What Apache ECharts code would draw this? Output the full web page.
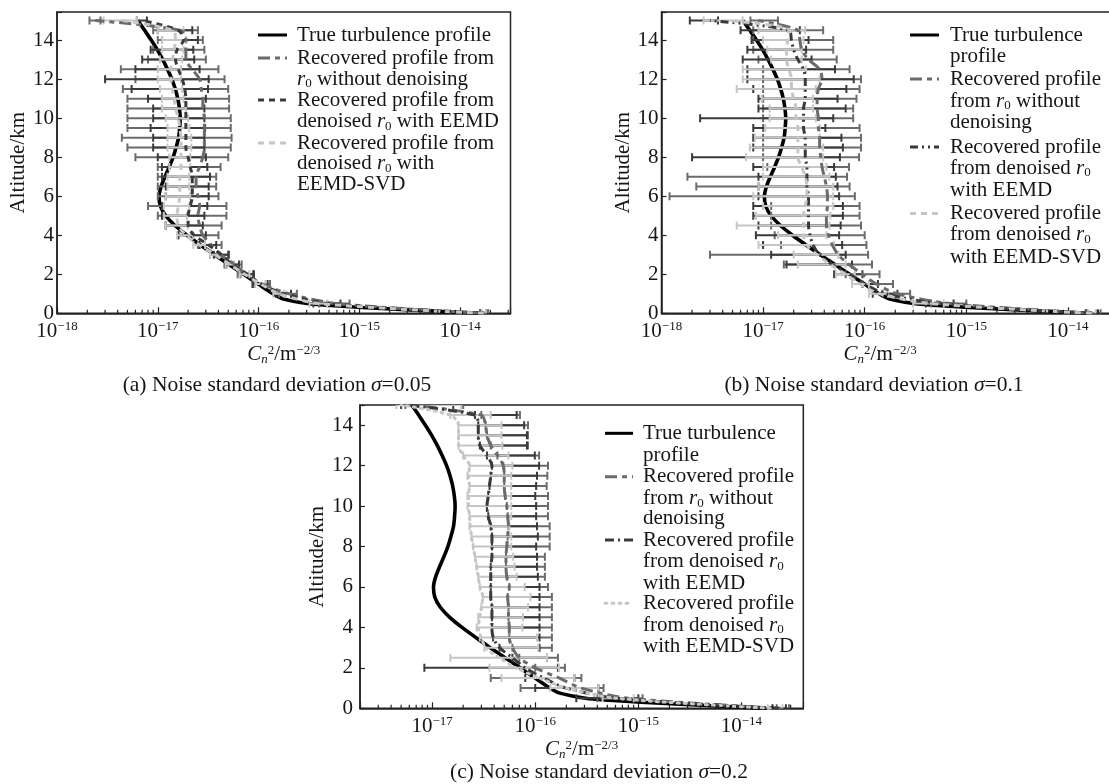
<!DOCTYPE html>
<html><head><meta charset="utf-8">
<script src="https://cdn.jsdelivr.net/npm/echarts@6/dist/echarts.min.js"></script>
<style>html,body{margin:0;padding:0;background:#fff}#c{width:1109px;height:784px}</style>
</head><body><div id="c"></div>
<script>
// values in units of 1e-17 m^-2/3
const U = 1e-17;
const ALT = [0,0.5,1,1.5,2,2.5,3,3.5,4,4.5,5,5.5,6,6.5,7,7.5,8,8.5,9,9.5,10,10.5,11,11.5,12,12.5,13,13.5,14,14.5,15];
const X_TICK_EXPONENTS = [-18,-17,-16,-15,-14];
const Y_TICKS = [0,2,4,6,8,10,12,14];

const TRUE_ALT = [0,0.1,0.2,0.3,0.4,0.5,0.75,1,1.5,2,2.5,3,3.5,4,4.5,5,5.5,6,6.5,7,7.5,8,8.5,9,9.5,10,10.5,11,11.5,12,12.5,13,13.5,14,14.5,15];
const TRUE_VAL = [1730,650,254,107,52,30.8,17.3,13.9,9.95,7.12,5.1,3.66,2.65,1.95,1.48,1.2,1.06,1.03,1.08,1.18,1.3,1.42,1.52,1.61,1.65,1.67,1.64,1.58,1.49,1.38,1.25,1.12,0.99,0.86,0.74,0.635];

// (a) sigma = 0.05
const ND_A_MEAN = [1750,60,20,11,7.5,5.8,4.2,3.4,2.8,2.6,2.5,2.6,2.5,2.4,2.4,2.6,2.8,2.9,2.9,2.9,2.9,2.8,2.8,2.7,2.6,2.2,1.9,1.9,1.9,1.7,0.24];
const ND_A_LO   = [1600,40,16,9,6.2,4.8,3.3,2.5,1.6,1.2,1.0,0.8,1.0,1.0,1.0,1.0,0.6,0.5,0.44,0.5,0.5,0.5,0.5,0.45,0.6,0.43,0.8,0.9,1.0,0.9,0.21];
const ND_A_HI   = [1900,80,24,13,8.8,6.8,5.1,4.3,4.0,4.3,4.8,4.8,4.0,3.8,3.8,4.2,5.0,5.3,5.4,5.3,5.3,5.1,5.1,5.0,4.6,4.0,3.0,2.9,2.8,2.5,0.27];
const EE_A_MEAN = [1700,50,18,10.5,7.8,5.5,4.3,3.2,2.3,2.0,2.0,2.1,2.2,2.2,2.2,2.1,2.0,1.9,1.9,1.9,1.9,1.9,1.9,1.85,1.75,1.6,1.5,1.55,1.8,1.6,0.70];
const EE_A_LO   = [1580,35,15,8.7,6.6,4.6,3.6,2.6,1.6,1.2,1.1,1.1,1.2,1.2,1.1,1.1,1.0,0.9,0.9,0.85,0.9,0.9,0.8,0.55,0.3,0.6,0.7,0.85,1.1,1.0,0.62];
const EE_A_HI   = [1820,65,21,12.3,9.0,6.4,5.0,3.8,3.0,2.8,2.9,3.1,3.2,3.2,3.3,3.1,3.0,2.9,2.9,2.95,2.9,2.9,3.0,3.15,3.2,2.6,2.3,2.25,2.5,2.2,0.78];
const SV_A_MEAN = [1720,40,16,10.5,7.3,5.2,3.7,2.6,1.9,1.6,1.55,1.6,1.65,1.65,1.65,1.7,1.7,1.7,1.7,1.65,1.6,1.5,1.45,1.4,1.35,1.35,1.4,1.45,1.5,1.4,0.45];
const SV_A_LO   = [1640,32,14,9.3,6.5,4.7,3.3,2.25,1.55,1.2,1.15,1.15,1.2,1.25,1.25,1.3,1.3,1.25,1.25,1.25,1.2,1.1,1.1,1.05,1.0,1.0,1.05,1.1,1.1,1.0,0.29];
const SV_A_HI   = [1800,48,18,11.7,8.1,5.7,4.1,2.95,2.25,2.0,1.95,2.05,2.1,2.05,2.05,2.1,2.1,2.15,2.15,2.05,2.0,1.9,1.8,1.75,1.7,1.7,1.75,1.8,1.9,1.8,0.62];

// (b) sigma = 0.1
const ND_B_MEAN = [1750,70,21,13,9.5,7.0,5.5,4.8,4.4,4.2,4.2,4.3,4.3,4.2,4.0,3.8,3.7,3.6,3.6,3.5,3.5,3.4,3.4,3.5,3.8,3.6,2.8,2.4,2.3,2.2,0.9];
const ND_B_LO   = [1550,45,15,9.5,6.5,1.6,0.30,1.5,1.3,1.2,1.2,1.2,0.12,0.22,0.18,1.1,1.0,1.0,1.0,1.0,1.0,1.0,1.0,1.0,1.0,1.0,0.9,0.8,0.8,0.8,0.75];
const ND_B_HI   = [2100,100,28,19,14,11.8,10.8,10.4,10,9.2,8.9,8.9,8.0,7.1,6.7,7.0,8.8,9.2,9.2,8.9,7.7,7.7,8.3,8.9,9.2,7.1,5.3,4.9,4.9,3.9,1.4];
const EE_B_MEAN = [1700,55,16,10,7.2,4.8,3.6,3.1,2.9,2.8,2.8,2.8,2.8,2.7,2.7,2.7,2.6,2.6,2.6,2.5,2.5,2.5,2.6,2.6,2.6,2.5,2.2,2.0,1.9,1.8,0.3];
const EE_B_LO   = [1500,40,12,7.5,5.0,1.7,1.2,1.0,0.85,0.9,0.8,0.8,0.9,0.9,0.9,0.8,0.2,0.8,0.8,0.8,0.24,0.9,0.9,0.8,0.7,0.7,0.63,0.7,0.77,0.6,0.19];
const EE_B_HI   = [1950,75,21,13.5,9.5,7.5,6.5,6.0,5.6,5.8,6.1,6.1,5.6,5.4,5.2,5.0,5.7,6.1,5.9,4.1,4.9,6.5,5.4,6.6,7.8,5.1,3.0,2.65,2.8,2.3,0.36];
const SV_B_MEAN = [1720,45,14,9,6.5,4.6,3.4,2.7,2.5,2.5,2.5,2.6,2.7,2.7,2.6,2.4,2.2,2.2,2.2,2.2,2.1,2.1,2.0,1.9,1.9,1.8,1.7,1.7,1.75,1.8,0.45];
const SV_B_LO   = [1580,30,11,7.5,5.2,2.2,2.0,0.9,1.4,0.55,0.85,1.0,0.8,0.9,1.0,1.0,0.68,0.74,0.83,1.05,1.16,1.16,0.97,0.55,0.63,0.63,1.2,1.1,1.0,0.9,0.26];
const SV_B_HI   = [1870,60,17,11,8.0,6.5,5.5,5.0,4.2,4.5,4.6,4.9,4.9,4.9,4.5,4.2,3.9,3.9,3.6,3.6,3.3,3.1,3.1,3.3,3.6,2.65,2.4,2.4,2.5,2.6,0.63];

// (c) sigma = 0.2
const ND_C_MEAN = [2400,80,28,17,10,7,6,5.6,5.6,5.5,5.5,5.4,5.6,5.3,5.2,5.2,5.3,5.4,5.5,5.4,5.3,5.1,5.0,5.0,4.9,4.3,3.7,3.4,3.3,3.0,0.6];
const ND_C_LO   = [2200,40,7.2,3.7,10,7,6,5.6,5.6,5.5,5.5,5.4,5.6,5.3,5.2,5.2,5.3,5.4,5.5,5.4,5.3,5.1,5.0,5.0,4.9,4.3,3.7,3.4,3.3,3.0,0.55];
const ND_C_HI   = [2900,110,46,28,19.4,16.6,14.5,14.5,14.5,14.5,14.5,14.5,13.3,12.4,12.4,12.4,13.8,13.8,13.8,13.3,13.3,13.3,12.9,13.1,13.3,10.9,8.5,8.5,8.5,7.1,2.0];
const EE_C_MEAN = [2300,60,20,12,8,6,4.5,3.9,3.8,3.8,3.8,3.7,3.7,3.7,3.7,3.8,3.8,3.8,3.7,3.5,3.4,3.5,3.6,3.7,3.8,3.4,2.9,2.8,2.8,2.6,0.55];
const EE_C_LO   = [2000,25,10,8,0.84,6,4.5,3.9,3.8,3.8,3.8,3.7,3.7,3.7,3.7,3.8,3.8,3.8,3.7,3.5,3.4,3.5,3.6,3.7,3.8,3.4,2.9,2.8,2.8,2.6,0.5];
const EE_C_HI   = [2700,100,41,24,16.6,13,11,11,11,11,11,11,11,10.6,10.4,10.4,10.2,10.6,10.4,10.2,10.2,10.0,10.2,10.4,10.9,9.9,8.3,8.3,7.8,6.6,1.6];
const SV_C_MEAN = [1900,60,20,11,6.5,4.5,3.3,3.0,2.8,2.9,3.0,3.1,2.9,2.8,2.7,2.6,2.5,2.4,2.35,2.3,2.25,2.25,2.3,2.25,2.3,2.0,1.8,1.8,1.8,1.5,0.5];
const SV_C_LO   = [1800,45,14,4.7,3.6,1.5,3.2,2.9,2.7,2.8,3.0,3.1,2.9,2.8,2.7,2.6,2.5,2.4,2.3,2.3,2.2,2.2,2.3,2.2,2.3,2.0,1.8,1.8,1.8,1.5,0.45];
const SV_C_HI   = [2500,90,41,24,17,13,10.7,10.4,7.5,7.6,8.5,9.0,7.9,6.6,6.3,6.1,5.85,5.85,5.6,5.85,5.85,5.85,5.85,5.85,6.0,5.5,4.8,4.7,4.7,3.7,1.9];

const FONT = '"Liberation Serif","Times New Roman",serif';
const TXT = '#161616';
const C_TRUE = '#000000', C_ND = '#6b6b6b', C_EE = '#3a3a3a', C_SV = '#c6c6c6';
const DASH_ND = [12,5,5,5], DASH_EE_A = [6,5], DASH_EE_B = [8,4,2,4,2,4], DASH_EE_C = [9,4,2,4], DASH_SV = [6,5], DASH_SV_C = [2,5];

const panels = [
  { grid:{left:57, top:12, width:453.5, height:301.3}, xMin:1e-18, xMax:Math.pow(10,-13.5), yMax:15.44,
    nd:[ND_A_MEAN,ND_A_LO,ND_A_HI], ee:[EE_A_MEAN,EE_A_LO,EE_A_HI], sv:[SV_A_MEAN,SV_A_LO,SV_A_HI],
    eeDash:DASH_EE_A, svDash:DASH_SV, yLabelMargin:3, yNameGap:28, xNameGap:24, xNamePad:[0,0,0,0] },
  { grid:{left:661.5, top:12, width:457.2, height:301.3}, xMin:1e-18, xMax:Math.pow(10,-13.5), yMax:15.44,
    nd:[ND_B_MEAN,ND_B_LO,ND_B_HI], ee:[EE_B_MEAN,EE_B_LO,EE_B_HI], sv:[SV_B_MEAN,SV_B_LO,SV_B_HI],
    eeDash:DASH_EE_B, svDash:DASH_SV, yLabelMargin:3, yNameGap:28, xNameGap:24, xNamePad:[0,20,0,0] },
  { grid:{left:360, top:405, width:443.3, height:303.3}, xMin:Math.pow(10,-17.7), xMax:Math.pow(10,-13.4), yMax:15,
    nd:[ND_C_MEAN,ND_C_LO,ND_C_HI], ee:[EE_C_MEAN,EE_C_LO,EE_C_HI], sv:[SV_C_MEAN,SV_C_LO,SV_C_HI],
    eeDash:DASH_EE_C, svDash:DASH_SV_C, yLabelMargin:7, yNameGap:27, xNameGap:20, xNamePad:[0,0,0,0] }
];

function powLabel(v){
  const l = Math.log10(v), e = Math.round(l);
  if (Math.abs(l - e) > 1e-6 || X_TICK_EXPONENTS.indexOf(e) < 0) return '';
  return '{b|10}{s|\u2212' + Math.abs(e) + '}';
}
function yLabel(v){
  const r = Math.round(v);
  return (Math.abs(v - r) < 1e-9 && Y_TICKS.indexOf(r) >= 0) ? String(r) : '';
}
function barRenderer(color){
  return function(params, api){
    const h = api.value(2);
    const a = api.coord([api.value(0), h]);
    const b = api.coord([api.value(1), h]);
    const c = 4;
    const st = {stroke: color, lineWidth: 2, fill: null};
    return {type:'group', children:[
      {type:'line', shape:{x1:a[0],y1:a[1],x2:b[0],y2:b[1]}, style:st},
      {type:'line', shape:{x1:a[0],y1:a[1]-c,x2:a[0],y2:a[1]+c}, style:st},
      {type:'line', shape:{x1:b[0],y1:b[1]-c,x2:b[0],y2:b[1]+c}, style:st}
    ]};
  };
}
function minorRender(params, api){
  const p = api.coord([api.value(0), 0]);
  return {type:'line', shape:{x1:p[0],y1:p[1],x2:p[0],y2:p[1]-3.5}, style:{stroke:'#222', lineWidth:1.2}};
}

const grids = [], xAxes = [], yAxes = [], series = [];
panels.forEach((P, i) => {
  grids.push(Object.assign({show:true, borderColor:'#222', borderWidth:1.5, backgroundColor:'transparent', containLabel:false, outerBoundsMode:'none'}, P.grid));
  xAxes.push({
    type:'log', logBase:10, gridIndex:i, min:P.xMin, max:P.xMax, splitNumber:5,
    axisLine:{show:true, lineStyle:{color:'#222', width:1.5}},
    axisTick:{show:true, inside:true, length:6, lineStyle:{color:'#222', width:1.2}},
    splitLine:{show:false}, minorTick:{show:false},
    axisLabel:{formatter:powLabel, margin:7, color:TXT, fontFamily:FONT,
      rich:{ b:{fontFamily:FONT, fontSize:21, lineHeight:22, color:TXT},
             s:{fontFamily:FONT, fontSize:13, lineHeight:13, padding:[0,0,9,0], color:TXT} }},
    name:'{i|C}{sb|n}{sp|2}{t|/m}{sp|\u22122/3}', nameLocation:'middle', nameGap:P.xNameGap,
    nameTextStyle:{fontFamily:FONT, fontSize:21, color:TXT, padding:P.xNamePad,
      rich:{ i:{fontFamily:FONT, fontSize:21, fontStyle:'italic', color:TXT, lineHeight:22},
             sb:{fontFamily:FONT, fontSize:13, fontStyle:'italic', color:TXT, lineHeight:13, padding:[10,0,0,0]},
             sp:{fontFamily:FONT, fontSize:13, color:TXT, lineHeight:13, padding:[0,0,9,0]},
             t:{fontFamily:FONT, fontSize:21, color:TXT, lineHeight:22} }}
  });
  yAxes.push({
    type:'value', gridIndex:i, min:0, max:P.yMax, interval:2,
    axisLine:{show:true, lineStyle:{color:'#222', width:1.5}},
    axisTick:{show:true, inside:true, length:5, lineStyle:{color:'#222', width:1.2}},
    splitLine:{show:false},
    axisLabel:{formatter:yLabel, margin:P.yLabelMargin, color:TXT, fontFamily:FONT, fontSize:21},
    name:'Altitude/km', nameLocation:'middle', nameGap:P.yNameGap, nameRotate:90,
    nameTextStyle:{fontFamily:FONT, fontSize:21, color:TXT}
  });

  series.push({type:'line', xAxisIndex:i, yAxisIndex:i, z:1, silent:true, symbol:'none', smooth:0.3,
    data: TRUE_ALT.map((h,k) => [TRUE_VAL[k]*U, h]), lineStyle:{color:C_TRUE, width:3.6}});

  const groups = [[P.nd, C_ND, DASH_ND, 'butt'], [P.ee, C_EE, P.eeDash, 'butt'], [P.sv, C_SV, P.svDash, i===2?'round':'butt']];
  groups.forEach((g, k) => {
    const [mean, lo, hi] = g[0];
    series.push({type:'custom', xAxisIndex:i, yAxisIndex:i, z:2+k, silent:true, clip:true,
      data: ALT.map((h,j) => [lo[j]*U, hi[j]*U, h]), encode:{x:[0,1], y:2},
      renderItem: barRenderer(g[1])});
  });
  groups.forEach((g, k) => {
    const mean = g[0][0];
    series.push({type:'line', xAxisIndex:i, yAxisIndex:i, z:5+k, silent:true, symbol:'none', smooth:0.3,
      data: ALT.map((h,j) => [mean[j]*U, h]),
      lineStyle:{color:g[1], width:3, type:g[2], cap:g[3]}});
  });

  const minor = [];
  for (let e = -19; e <= -13; e++) for (let m = 2; m <= 9; m++) {
    const v = m * Math.pow(10, e);
    if (v > P.xMin * 1.0001 && v < P.xMax * 0.9999) minor.push([v, 0]);
  }
  series.push({type:'custom', xAxisIndex:i, yAxisIndex:i, z:20, silent:true, clip:false,
    data:minor, encode:{x:0, y:1}, renderItem:minorRender});
});

// legends (drawn as graphic: icon line + text lines)
const RICH = {
  ri:{fontFamily:FONT, fontSize:21, fontStyle:'italic', fill:TXT},
  sb:{fontFamily:FONT, fontSize:13, fill:TXT, padding:[10,0,0,0]}
};
const R0 = '{ri|r}{sb|0}';
const LEGENDS = [
  { x1:258, x2:287, tx:297,
    icons:[[35,C_TRUE,null],[58,C_ND,DASH_ND],[100,C_EE,DASH_EE_A],[143,C_SV,DASH_SV]],
    lines:[[35,'True turbulence profile'],[58,'Recovered profile from'],[79,R0+' without denoising'],
           [100,'Recovered profile from'],[121.5,'denoised '+R0+' with EEMD'],
           [143,'Recovered profile from'],[163.5,'denoised '+R0+' with'],[184.5,'EEMD-SVD']] },
  { x1:910, x2:939, tx:950,
    icons:[[35,C_TRUE,null],[79,C_ND,DASH_ND],[147,C_EE,DASH_EE_B],[213.5,C_SV,DASH_SV]],
    lines:[[35,'True turbulence'],[56,'profile'],[79,'Recovered profile'],[101,'from '+R0+' without'],[122.5,'denoising'],
           [147,'Recovered profile'],[168,'from denoised '+R0],[190.5,'with EEMD'],
           [213.5,'Recovered profile'],[234.5,'from denoised '+R0],[257,'with EEMD-SVD']] },
  { x1:605, x2:633, tx:643,
    icons:[[433.3,C_TRUE,null],[476.7,C_ND,DASH_ND],[540,C_EE,DASH_EE_C],[603.3,C_SV,DASH_SV_C]],
    lines:[[433.3,'True turbulence'],[455,'profile'],[476.7,'Recovered profile'],[498.3,'from '+R0+' without'],[518.3,'denoising'],
           [540,'Recovered profile'],[561.7,'from denoised '+R0],[583.3,'with EEMD'],
           [603.3,'Recovered profile'],[625,'from denoised '+R0],[646.7,'with EEMD-SVD']] }
];
const CAPTIONS = [
  [277, 385, '(a) Noise standard deviation {si|\u03c3}=0.05'],
  [874, 385, '(b) Noise standard deviation {si|\u03c3}=0.1'],
  [599, 772, '(c) Noise standard deviation {si|\u03c3}=0.2']
];

const graphics = [];
LEGENDS.forEach((L, li) => {
  L.icons.forEach(ic => {
    graphics.push({type:'line', silent:true, z:100,
      shape:{x1:L.x1, y1:ic[0], x2:L.x2, y2:ic[0]},
      style:{stroke:ic[1], lineWidth:3, lineDash:ic[2] || null, lineCap:(li===2 && ic[1]===C_SV)?'round':'butt'}});
  });
  L.lines.forEach(t => {
    graphics.push({type:'text', silent:true, z:100, x:L.tx, y:t[0],
      style:{text:t[1], fontFamily:FONT, fontSize:21, fill:TXT, align:'left', verticalAlign:'middle',
             textAlign:'left', textVerticalAlign:'middle', rich:RICH}});
  });
});
CAPTIONS.forEach(c => {
  graphics.push({type:'text', silent:true, z:100, x:c[0], y:c[1],
    style:{text:c[2], fontFamily:FONT, fontSize:21.5, fill:TXT, align:'center', verticalAlign:'middle',
           textAlign:'center', textVerticalAlign:'middle',
           rich:{si:{fontFamily:FONT, fontSize:21.5, fontStyle:'italic', fill:TXT}}}});
});

const chart = echarts.init(document.getElementById('c'), null, {renderer:'canvas'});
chart.setOption({
  animation:false, backgroundColor:'#ffffff',
  textStyle:{fontFamily:FONT},
  grid:grids, xAxis:xAxes, yAxis:yAxes, series:series, graphic:graphics
});
</script></body></html>
